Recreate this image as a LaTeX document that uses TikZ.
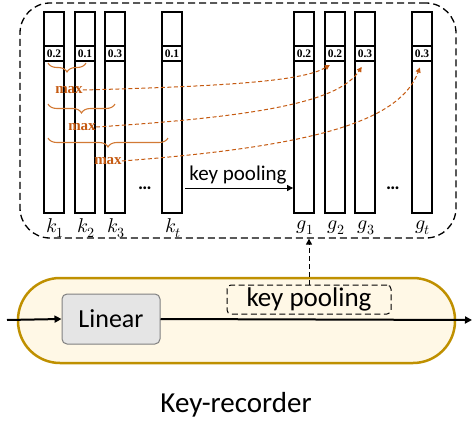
\documentclass[tikz,border=0pt]{standalone}
\usepackage{fontspec}
\usepackage{unicode-math}
\setmathfont{Latin Modern Math}
\setmainfont{Carlito}
\newfontfamily\tnr{Liberation Serif}
\usetikzlibrary{arrows.meta,decorations.pathreplacing,calc}
\definecolor{orng}{HTML}{C55A11}
\definecolor{brc}{HTML}{D27A35}
\definecolor{gold}{HTML}{BF9000}
\definecolor{cream}{HTML}{FFF8E6}
\tikzset{
  col/.style={draw, line width=1.8pt, minimum width=20pt, minimum height=201pt, inner sep=0pt},
  val/.style={draw, line width=1.8pt, minimum width=20pt, minimum height=15pt, inner sep=0pt, font=\tnr\bfseries\fontsize{11.5}{11.5}\selectfont},
  lab/.style={font=\fontsize{20}{20}\selectfont, inner sep=0pt},
  dots/.style={font=\bfseries\fontsize{19}{19}\selectfont, inner sep=0pt},
  bracestyle/.style={draw=brc, line width=1.1pt, decorate, decoration={brace, mirror, amplitude=9pt}},
  maxlab/.style={text=orng, font=\tnr\bfseries\fontsize{15}{15}\selectfont, inner sep=0pt},
  oarrow/.style={draw=orng, line width=1pt, dash pattern=on 4pt off 2.5pt, -{Triangle[length=5pt,width=5pt]}},
  main/.style={line width=2pt, -{Triangle[length=7pt,width=7pt]}},
}
\begin{document}
\begin{tikzpicture}[x=1pt, y=-1pt]
\useasboundingbox (0,0) rectangle (472,423);
% outer dashed box
\node[draw, dash pattern=on 7pt off 4pt, line width=1.3pt, rounded corners=30pt, minimum width=436pt, minimum height=235pt, inner sep=0pt] (outer) at (238,120.5) {};
% k columns
\node[col] (k1) at (54,112.5) {};
\node[col] (k2) at (85,112.5) {};
\node[col] (k3) at (115,112.5) {};
\node[col] (kt) at (172,112.5) {};
\node[val] (k1v) at (54,53.5) {0.2};
\node[val] (k2v) at (85,53.5) {0.1};
\node[val] (k3v) at (115,53.5) {0.3};
\node[val] (ktv) at (172,53.5) {0.1};
% g columns
\node[col] (g1) at (304,112.5) {};
\node[col] (g2) at (335,112.5) {};
\node[col] (g3) at (365,112.5) {};
\node[col] (gt) at (422,112.5) {};
\node[val] (g1v) at (304,53.5) {0.2};
\node[val] (g2v) at (335,53.5) {0.2};
\node[val] (g3v) at (365,53.5) {0.3};
\node[val] (gtv) at (422,53.5) {0.3};
% labels
\node[lab] (lk1) at (55,228) {$k_1$};
\node[lab] (lk2) at (86,228) {$k_2$};
\node[lab] (lk3) at (116,228) {$k_3$};
\node[lab] (lkt) at (173,228) {$k_t$};
\node[lab] (lg1) at (305,228) {$g_1$};
\node[lab] (lg2) at (336,228) {$g_2$};
\node[lab] (lg3) at (366,228) {$g_3$};
\node[lab] (lgt) at (423,228) {$g_t$};
\node[dots] (dk) at (145,188) {\dots};
\node[dots] (dg) at (393,188) {\dots};
% key pooling arrow
\coordinate (kpa) at (185,188);
\draw[line width=1pt, -{Triangle[length=6pt,width=6pt]}] (kpa) -- (kpa -| g1.west);
\node[font=\fontsize{21}{21}\selectfont, inner sep=0pt] (kptxt) at (238,175) {key pooling};
% braces and max
\draw[bracestyle] (48,63) -- (86,63);
\node[maxlab] (m1) at (69,90) {max};
\draw[bracestyle] (48,104) -- (115,104);
\node[maxlab] (m2) at (82,127) {max};
\draw[bracestyle] (48,138) -- (168,138);
\node[maxlab] (m3) at (108,161) {max};
% orange arrows
\draw[oarrow, shorten >=6pt] (m1.east) .. controls (240,86) and (305,80) .. (g2v.south);
\draw[oarrow, shorten >=6pt] (m2.east) .. controls (270,116) and (340,100) .. (g3v.south);
\draw[oarrow, shorten >=6pt] (m3.east) .. controls (320,146) and (400,120) .. (gtv.south);
% lower part
\node[draw=gold, fill=cream, line width=2.5pt, rounded corners=42pt, minimum width=437pt, minimum height=85pt, inner sep=0pt] (kr) at (236.5,320.5) {};
\node[draw=gray, fill=gray!20, line width=1pt, rounded corners=5pt, minimum width=98pt, minimum height=50pt, inner sep=0pt, font=\fontsize{26}{26}\selectfont] (lin) at (111,319) {Linear};
\node[draw, dash pattern=on 6pt off 3.5pt, line width=1pt, rounded corners=4pt, minimum width=164pt, minimum height=29pt, inner sep=0pt, font=\fontsize{27}{27}\selectfont] (kp) at (309,299.5) {key pooling};
\coordinate (in) at (7,320);
\coordinate (out) at (472,320);
\draw[main] (in) -- (lin.west);
\draw[main] (lin.east) -- (out);
\draw[dash pattern=on 5pt off 3pt, line width=1pt, -{Triangle[length=6pt,width=6pt]}] (kp.north) -- (kp.north |- outer.south);
\node[font=\fontsize{29}{29}\selectfont, inner sep=0pt] (title) at (236,405) {Key-recorder};
\end{tikzpicture}
\end{document}
